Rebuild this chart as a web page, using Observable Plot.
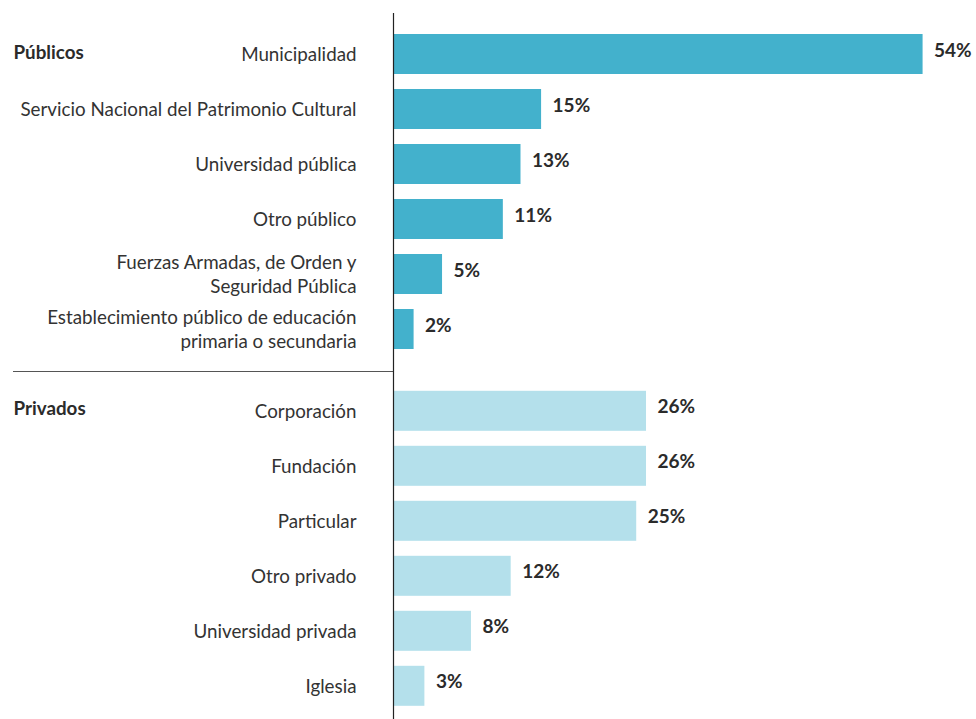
<!DOCTYPE html>
<html>
<head>
<meta charset="utf-8">
<script src="https://cdn.jsdelivr.net/npm/d3@7"></script>
<script src="https://cdn.jsdelivr.net/npm/@observablehq/plot@0.6"></script>
<style>
  html, body { margin: 0; padding: 0; background: #fff; }
  #chart svg { display: block; }
</style>
</head>
<body>
<div id="chart"></div>
<script>
// ---- data ----
const groupNames = ["Públicos", "Privados"];

const publicosLabels = [
  "Municipalidad",
  "Servicio Nacional del Patrimonio Cultural",
  "Universidad pública",
  "Otro público",
  "Fuerzas Armadas, de Orden y\nSeguridad Pública",
  "Establecimiento público de educación\nprimaria o secundaria"
];
const publicosValues = [54.0, 15.1, 13.0, 11.2, 5.0, 2.1];

const privadosLabels = [
  "Corporación",
  "Fundación",
  "Particular",
  "Otro privado",
  "Universidad privada",
  "Iglesia"
];
const privadosValues = [25.8, 25.8, 24.8, 12.0, 7.95, 3.2];

const colors = ["#43b1cc", "#b4e0eb"];

// ---- build tables ----
const publicos = publicosLabels.map((name, i) => ({group: groupNames[0], name, value: publicosValues[i]}));
const privados = privadosLabels.map((name, i) => ({group: groupNames[1], name, value: privadosValues[i]}));
const domain = [...publicosLabels, ...privadosLabels];

const textColor = "#2b2b2b";
const groupShift = 26.8;

function groupMarks(rows, fill, dy) {
  return [
    Plot.barX(rows, {y: "name", x: "value", fill, dy}),
    Plot.text(rows, {
      y: "name", x: "value", text: d => Math.round(d.value) + "%",
      textAnchor: "start", dx: 11, dy: dy - 4,
      fontWeight: "bold", fontSize: 19, fill: textColor
    }),
    Plot.text(rows, {
      y: "name", text: "name", frameAnchor: "left",
      textAnchor: "end", dx: -37, dy: dy - 1, lineHeight: 1.28,
      fontSize: 18.8, fill: "#333"
    }),
    Plot.text(rows.slice(0, 1), {
      y: "name", text: "group", frameAnchor: "left",
      textAnchor: "start", dx: -380, dy: dy - 2, fontWeight: "bold",
      fontSize: 18.8, fill: textColor
    })
  ];
}

const chart = Plot.plot({
  width: 976,
  height: 719,
  marginLeft: 393,
  marginRight: 24,
  marginTop: 17,
  marginBottom: 23,
  style: {fontFamily: "Lato, 'Noto Sans', sans-serif", fontSize: "17px", background: "#fff"},
  x: {domain: [0, 57], axis: null},
  y: {domain, padding: 0.28, axis: null},
  marks: [
    ...groupMarks(publicos, colors[0], 0),
    ...groupMarks(privados, colors[1], groupShift),
    Plot.ruleY(privados.slice(0, 1), {
      y: "name", x1: 0, x2: 0, dy: -13,
      insetLeft: -380, stroke: "#555", strokeWidth: 1.2
    }),
    Plot.ruleX([0], {stroke: "#222", strokeWidth: 1.2, insetTop: -4, insetBottom: -23})
  ]
});

document.getElementById("chart").appendChild(chart);
</script>
</body>
</html>
